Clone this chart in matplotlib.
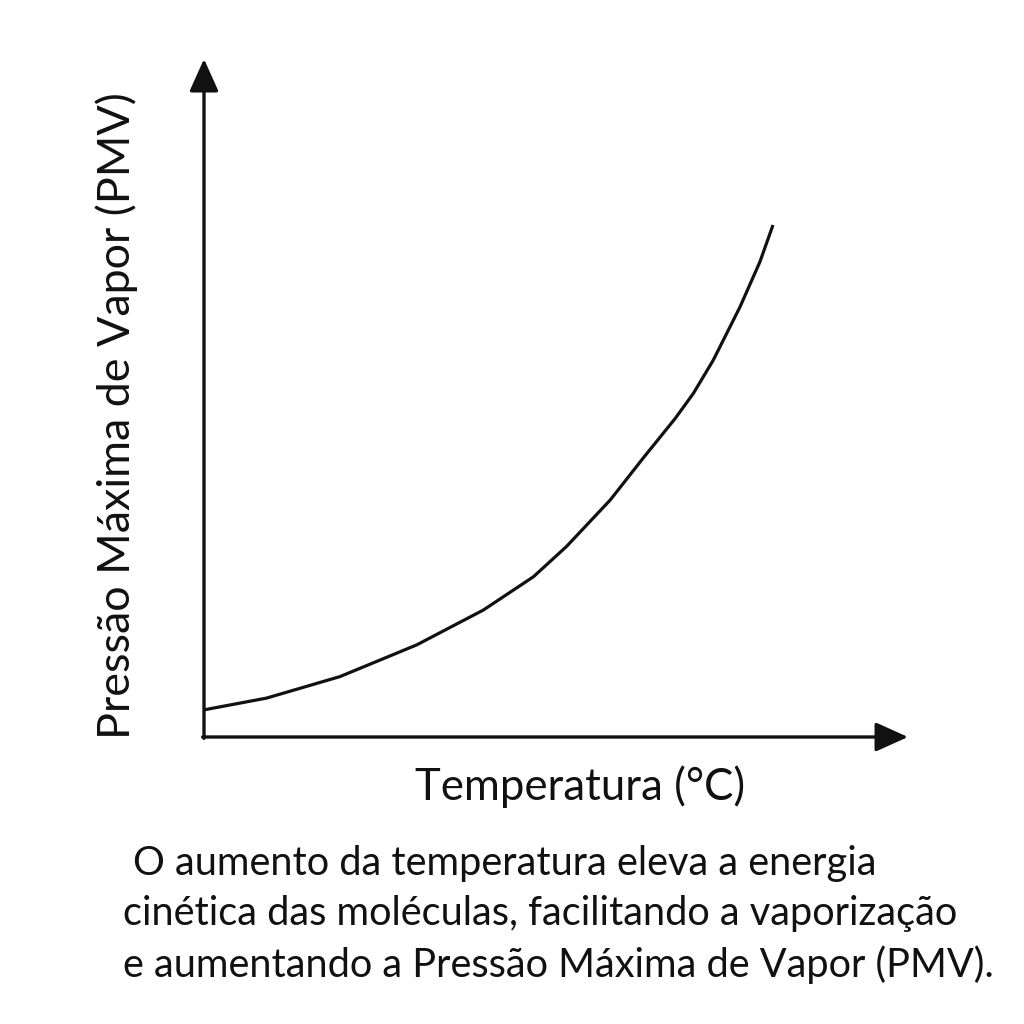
import matplotlib
matplotlib.use("Agg")
import matplotlib.pyplot as plt

# Data (arbitrary units: temperature 0-100, pressure 0-100)
temperatura = [0, 11.0, 23.9, 37.4, 49.1, 57.9, 63.7, 71.4, 77.2, 82.8, 86.0, 89.5, 94.2, 97.7, 100]
pmv = [5.3, 7.6, 11.8, 18.0, 24.8, 31.3, 37.2, 46.3, 54.5, 62.2, 67.1, 73.6, 84.0, 92.8, 100]

x_label = "Temperatura (°C)"
y_label = "Pressão Máxima de Vapor (PMV)"
caption = [
    "O aumento da temperatura eleva a energia",
    "cinética das moléculas, facilitando a vaporização",
    "e aumentando a Pressão Máxima de Vapor (PMV).",
]

FONT = ["Lato", "DejaVu Sans"]
INK = "#111111"
W = H = 1024

fig = plt.figure(figsize=(10.24, 10.24), dpi=100)
ax = fig.add_axes([204 / W, (H - 737) / H, (908 - 204) / W, (737 - 59) / H])
ax.plot(temperatura, pmv, color=INK, lw=2.3, solid_capstyle="butt",
        solid_joinstyle="round", clip_on=False)
ax.set_xlim(0, 704 / 5.69)
ax.set_ylim(0, 678 / 5.12)
for s in ax.spines.values():
    s.set_visible(False)
ax.set_xticks([])
ax.set_yticks([])

arrow = dict(arrowstyle="-|>,head_length=1.0,head_width=0.45", lw=2.4, color=INK,
             mutation_scale=20, shrinkA=0, shrinkB=0)
ax.annotate("", xy=(1, 0), xytext=(-0.002, 0), xycoords="axes fraction", arrowprops=arrow)
ax.annotate("", xy=(0, 1), xytext=(0, -0.002), xycoords="axes fraction", arrowprops=arrow)

fig.text(580 / W, (H - 800) / H, x_label, family=FONT, fontsize=31.5,
         color=INK, ha="center", va="baseline")
fig.text(117 / W, (H - 416) / H, y_label, family=FONT, fontsize=32.3,
         color=INK, ha="center", va="center", rotation=90)

starts = [133, 123, 123]
baselines = [875, 925, 977]
for line, x0, yb in zip(caption, starts, baselines):
    fig.text(x0 / W, (H - yb) / H, line, family=FONT, fontsize=28.6,
             color=INK, ha="left", va="baseline")

fig.savefig("out.png", dpi=100, facecolor="white")
